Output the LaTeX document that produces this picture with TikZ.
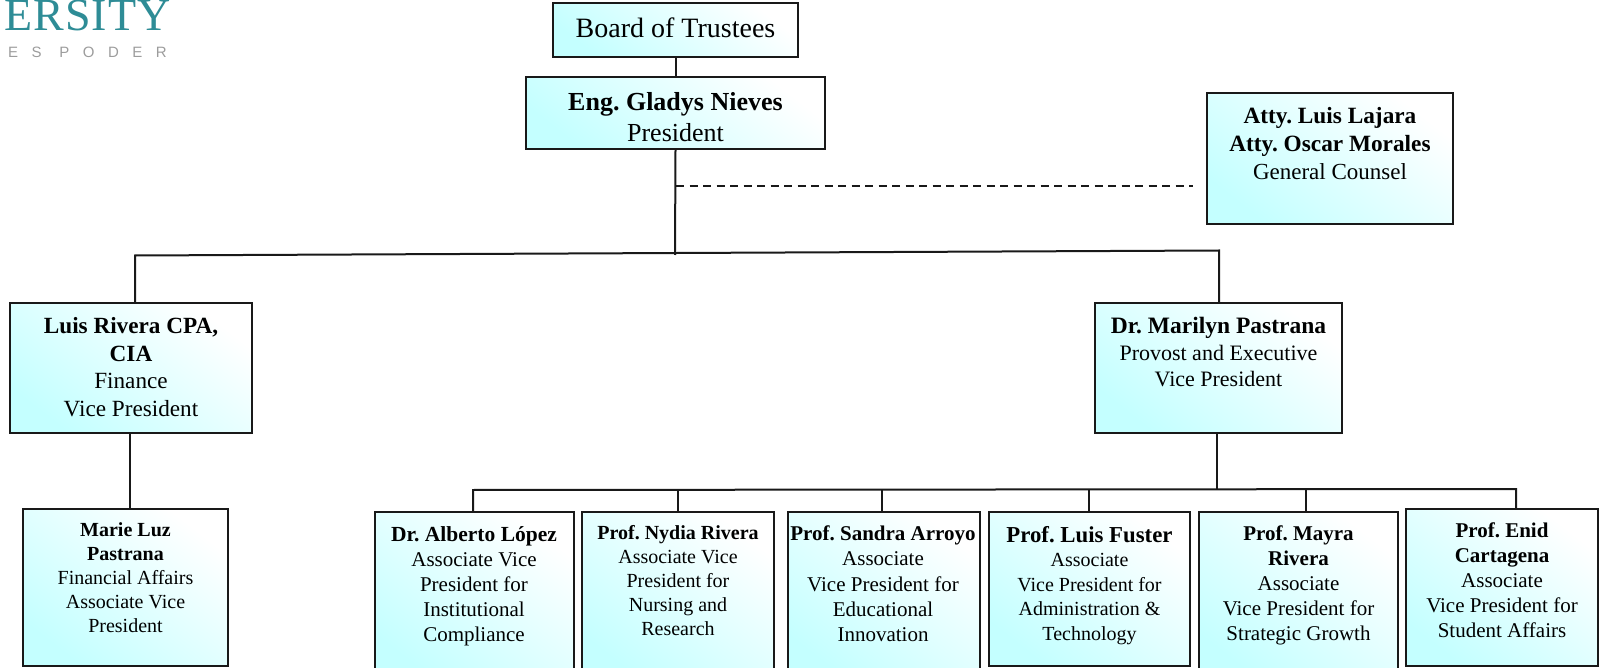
\documentclass[tikz,border=0pt]{standalone}
\usepackage{fontspec}
\setmainfont{Liberation Serif}
\newfontfamily\logosans[LetterSpace=90]{Liberation Sans}
\newfontfamily\logoserif[LetterSpace=2.5]{Liberation Serif}
\usepackage{tikz}
\usetikzlibrary{positioning}
\definecolor{boxcyan}{HTML}{C4FFFF}
\definecolor{logoteal}{HTML}{2E8C96}
\definecolor{logogray}{HTML}{9C9C9C}
\newcommand{\boxfont}[2]{\fontsize{#1}{#2}\selectfont}
\frenchspacing

\begin{document}
\begin{tikzpicture}[x=1pt, y=-1pt,
    orgbox/.style={draw=black!90, line width=2pt, inner sep=0pt, shading=axis,
      bottom color=boxcyan, top color=white, shading angle=-38},
    orgtext/.style={inner sep=0pt, align=center},
    orgline/.style={draw=black!90, line width=2pt}]
  \useasboundingbox (0,0) rectangle (1599,668);

  \foreach \name/\cx/\cy/\w/\h in {board/675.5/30/245/54, president/675.5/113/299/72,
      counsel/1330/158.5/246/131, provost/1218.5/368/247/130, finance/131/368/242/130,
      marie/125.5/587.5/205/157, alberto/474/596/199/168, nydia/678/596/192/168,
      sandra/884/596/192/168, fuster/1089.5/589/201/154, mayra/1298.5/596/199/168,
      enid/1502/587.5/192/157} {
    \node[orgbox, minimum width=\w pt, minimum height=\h pt] (\name) at (\cx,\cy) {};
  };

  \node[orgtext, below=15.5pt of board.north, font=\boxfont{28}{31}] (board-text) {Board of Trustees};
  \node[orgtext, below=16pt of president.north, font=\boxfont{26}{31}] (president-text) {\textbf{Eng. Gladys Nieves}\\President};
  \node[orgtext, below=15pt of counsel.north, font=\boxfont{23}{28}] (counsel-text) {{\fontsize{23.3}{28}\selectfont\textbf{Atty. Luis Lajara}}\\{\fontsize{23.3}{28}\selectfont\textbf{Atty. Oscar Morales}}\\General Counsel};
  \node[orgtext, below=15pt of provost.north, font=\boxfont{22}{26.5}] (provost-text) {{\fontsize{23.5}{26.5}\selectfont\textbf{Dr. Marilyn Pastrana}}\\Provost and Executive\\Vice President};
  \node[orgtext, below=15.5pt of finance.north, font=\boxfont{23.2}{27.5}] (finance-text) {\textbf{Luis Rivera CPA,}\\\textbf{CIA}\\Finance\\Vice President};
  \node[orgtext, below=14pt of marie.north, font=\boxfont{20}{24}] (marie-text) {\textbf{Marie Luz}\\\textbf{Pastrana}\\Financial Affairs\\Associate Vice\\President};
  \node[orgtext, below=15pt of alberto.north, font=\boxfont{21}{25.2}] (alberto-text) {{\fontsize{21.5}{25.2}\selectfont\textbf{Dr. Alberto López}}\\Associate Vice\\President for\\Institutional\\Compliance};
  \node[orgtext, below=14pt of nydia.north, font=\boxfont{20}{24}] (nydia-text) {\textbf{Prof. Nydia Rivera}\\Associate Vice\\President for\\Nursing and\\Research};
  \node[orgtext, below=14.5pt of sandra.north, xshift=-1pt, font=\boxfont{21}{25.3}] (sandra-text) {\textbf{Prof. Sandra Arroyo}\\Associate\\Vice President for\\Educational\\Innovation};
  \node[orgtext, below=15pt of fuster.north, font=\boxfont{20}{24.5}] (fuster-text) {{\fontsize{22.8}{24.5}\selectfont\textbf{Prof. Luis Fuster}}\\Associate\\Vice President for\\Administration \&\\Technology};
  \node[orgtext, below=14.5pt of mayra.north, font=\boxfont{21}{25}] (mayra-text) {\textbf{Prof. Mayra}\\\textbf{Rivera}\\Associate\\Vice President for\\Strategic Growth};
  \node[orgtext, below=14.5pt of enid.north, font=\boxfont{21}{25}] (enid-text) {\textbf{Prof. Enid}\\\textbf{Cartagena}\\Associate\\Vice President for\\Student Affairs};

  \node[anchor=base west, inner sep=0pt, text=logoteal, font=\logoserif\boxfont{46}{46}] (logo-name) at (4,31) {ERSITY};
  \node[anchor=west, inner sep=0pt, text=logogray, font=\logosans\boxfont{15}{15}] (logo-motto) at (8,52) {ES PODER};

  % trunk and the two branches
  \coordinate (split) at (675,255);
  \coordinate (split-left) at (135,255.5);
  \coordinate (split-right) at (1219,250.5);
  \coordinate (dash-start) at (676,186.5);
  \coordinate (dash-end) at (1193,186.5);
  \draw[orgline] (board) -- (president);
  \draw[orgline] (president.south) -- (split);
  \draw[orgline, dash pattern=on 8pt off 5.5pt] (dash-start) -- (dash-end);
  \draw[orgline] (finance.north -| split-left) -- (split-left) -- (split-right) -- (provost.north -| split-right);
  \draw[orgline] (129.5,433) coordinate (finance-foot) -- (finance-foot |- marie.north);

  % associate vice presidents
  \coordinate (bus-left) at (473,490);
  \coordinate (bus-right) at (1516,489);
  \draw[orgline] (bus-left |- alberto.north) -- (bus-left) -- (bus-right) -- (bus-right |- enid.north);
  \draw[orgline] (1217,433) coordinate (provost-foot) -- (provost-foot |- bus-left);
  \foreach \name/\x in {nydia/678, sandra/882, fuster/1089, mayra/1306} {
    \draw[orgline] (\x,490) coordinate (drop-\name) -- (drop-\name |- \name.north);
  };
\end{tikzpicture}
\end{document}
